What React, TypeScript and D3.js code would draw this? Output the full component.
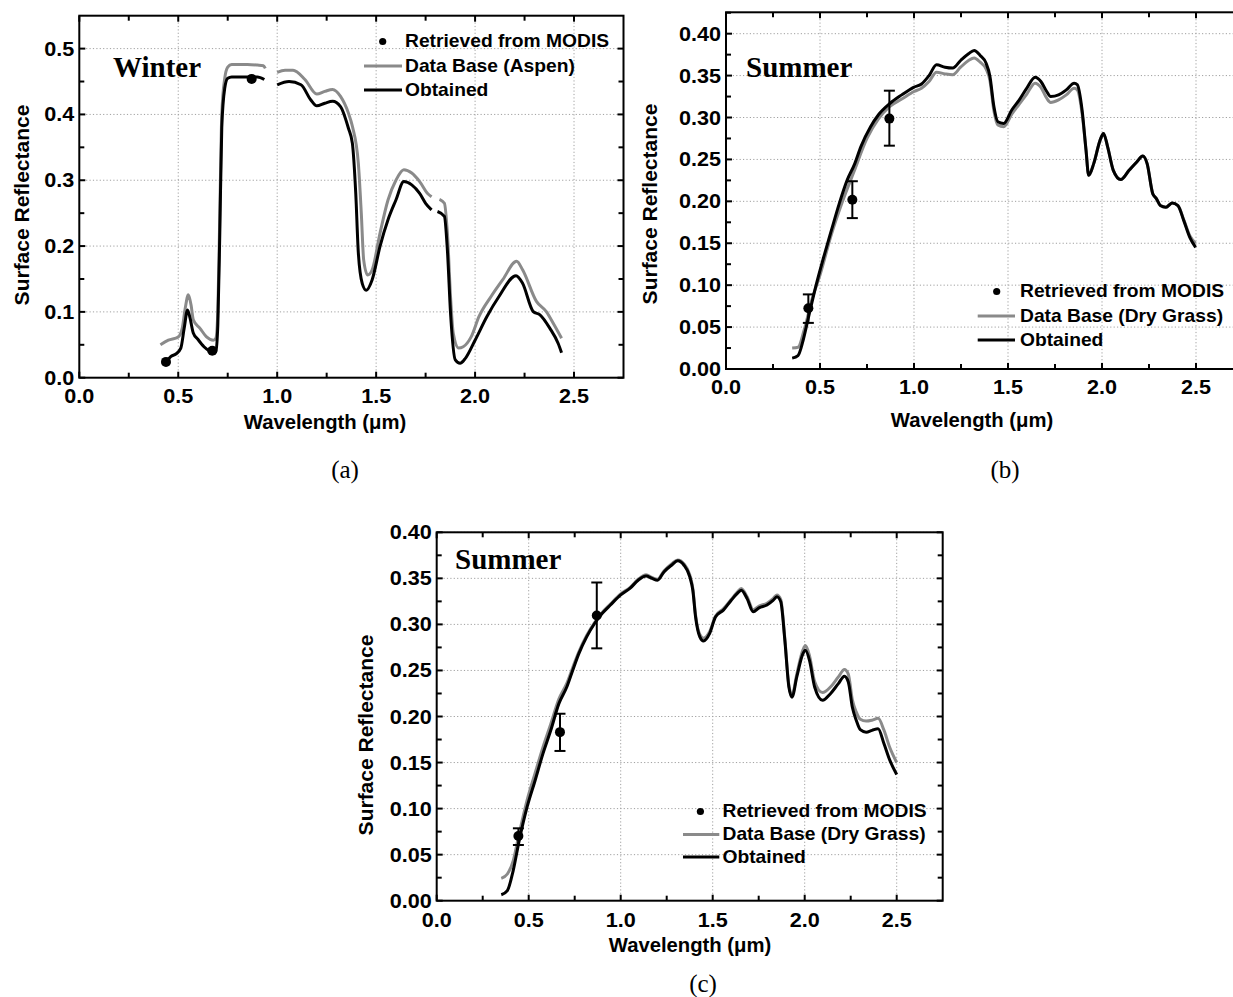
import React, { useEffect, useRef } from 'react';
import * as d3 from 'd3';

const W = 1233;
const H = 997;

// ---------- axis ticks ----------
const xTickValues = [0, 0.5, 1.0, 1.5, 2.0, 2.5];
const xTickLabels = ['0.0', '0.5', '1.0', '1.5', '2.0', '2.5'];
const xMinorValues = [0.25, 0.75, 1.25, 1.75, 2.25];
const yTickValuesA = [0, 0.1, 0.2, 0.3, 0.4, 0.5];
const yTickLabelsA = ['0.0', '0.1', '0.2', '0.3', '0.4', '0.5'];
const yMinorValuesA = [0.05, 0.15, 0.25, 0.35, 0.45];
const yTickValuesBC = [0, 0.05, 0.1, 0.15, 0.2, 0.25, 0.3, 0.35, 0.4];
const yTickLabelsBC = ['0.00', '0.05', '0.10', '0.15', '0.20', '0.25', '0.30', '0.35', '0.40'];
const yMinorValuesBC = [0.025, 0.075, 0.125, 0.175, 0.225, 0.275, 0.325, 0.375, 0.425];

// ---------- panel (a): Winter, Aspen ----------
const aGrayWl = [0.41, 0.45, 0.50, 0.52, 0.535, 0.551, 0.565, 0.576, 0.61, 0.643, 0.677, 0.69, 0.70, 0.71, 0.72, 0.735, 0.75, 0.77, 0.80, 0.85, 0.90, 0.93, 0.94,
  0.97,
  1.00, 1.04, 1.08, 1.14, 1.20, 1.24, 1.28, 1.32, 1.36, 1.38, 1.41, 1.425, 1.437, 1.457, 1.48, 1.52, 1.56, 1.60, 1.64, 1.68, 1.72, 1.76, 1.78,
  1.80,
  1.82, 1.845, 1.86, 1.877, 1.89, 1.917, 1.94, 1.98, 2.02, 2.08, 2.14, 2.21, 2.24, 2.31, 2.36, 2.40, 2.437];
const aGrayR = [0.050, 0.057, 0.062, 0.075, 0.105, 0.126, 0.110, 0.088, 0.075, 0.062, 0.057, 0.060, 0.10, 0.25, 0.40, 0.455, 0.472, 0.476, 0.476, 0.476, 0.475, 0.474, 0.470,
  null,
  0.464, 0.467, 0.467, 0.453, 0.431, 0.435, 0.438, 0.4275, 0.402, 0.382, 0.326, 0.25, 0.179, 0.156, 0.164, 0.22, 0.27, 0.30, 0.316, 0.311, 0.298, 0.28, 0.275,
  null,
  0.271, 0.265, 0.22, 0.118, 0.067, 0.045, 0.047, 0.062, 0.093, 0.123, 0.149, 0.177, 0.164, 0.116, 0.1005, 0.080, 0.060];

const aBlackWl = [0.44, 0.462, 0.488, 0.513, 0.53, 0.547, 0.56, 0.576, 0.60, 0.63, 0.66, 0.677, 0.69, 0.70, 0.71, 0.72, 0.735, 0.75, 0.77, 0.82, 0.87, 0.90, 0.935,
  0.97,
  1.00, 1.06, 1.12, 1.17, 1.20, 1.24, 1.28, 1.32, 1.36, 1.38, 1.397, 1.41, 1.43, 1.45, 1.48, 1.52, 1.56, 1.60, 1.64, 1.68, 1.72, 1.75, 1.78,
  1.795,
  1.81, 1.845, 1.86, 1.877, 1.90, 1.924, 1.95, 2.00, 2.06, 2.12, 2.207, 2.24, 2.294, 2.328, 2.378, 2.42, 2.437];
const aBlackR = [0.024, 0.032, 0.036, 0.045, 0.075, 0.103, 0.090, 0.068, 0.058, 0.047, 0.040, 0.037, 0.040, 0.08, 0.22, 0.38, 0.44, 0.455, 0.457, 0.457, 0.457, 0.457, 0.453,
  null,
  0.445, 0.45, 0.445, 0.422, 0.413, 0.417, 0.42, 0.412, 0.379, 0.356, 0.28, 0.19, 0.143, 0.133, 0.149, 0.20, 0.24, 0.27, 0.298, 0.293, 0.28, 0.265, 0.255,
  null,
  0.2525, 0.245, 0.194, 0.093, 0.027, 0.022, 0.029, 0.057, 0.093, 0.123, 0.155, 0.1435, 0.1005, 0.0955, 0.075, 0.052, 0.038];

const aModisWl = [0.438, 0.672, 0.871];
const aModisR = [0.024, 0.041, 0.454];

// ---------- panel (b): Summer, Dry Grass ----------
const bBlackWl = [0.352, 0.383, 0.41, 0.435, 0.477, 0.519, 0.56, 0.602, 0.644, 0.685, 0.717, 0.769, 0.81, 0.873, 0.935, 0.998, 1.04, 1.08, 1.12, 1.165, 1.206, 1.248, 1.29, 1.32, 1.352, 1.383, 1.404, 1.425, 1.446, 1.477, 1.52, 1.56, 1.60, 1.644, 1.675, 1.706, 1.727, 1.769, 1.81, 1.852, 1.869, 1.894, 1.915, 1.929, 1.956, 1.99, 2.008, 2.03, 2.06, 2.10, 2.144, 2.185, 2.217, 2.24, 2.27, 2.29, 2.31, 2.34, 2.373, 2.404, 2.435, 2.467, 2.498];
const bBlackR = [0.013, 0.016, 0.034, 0.058, 0.098, 0.133, 0.165, 0.197, 0.225, 0.245, 0.265, 0.289, 0.303, 0.317, 0.327, 0.336, 0.34, 0.35, 0.363, 0.36, 0.359, 0.368, 0.376, 0.38, 0.374, 0.365, 0.349, 0.313, 0.295, 0.293, 0.309, 0.321, 0.335, 0.348, 0.343, 0.331, 0.325, 0.327, 0.333, 0.341, 0.339, 0.309, 0.261, 0.231, 0.245, 0.273, 0.281, 0.265, 0.237, 0.226, 0.237, 0.247, 0.254, 0.245, 0.209, 0.203, 0.195, 0.193, 0.198, 0.195, 0.177, 0.157, 0.145];
const bGrayWl = [0.352, 0.383, 0.415, 0.456, 0.50, 0.56, 0.62, 0.68, 0.75, 0.81, 0.87, 0.935, 1.0, 1.04, 1.08, 1.12, 1.165, 1.206, 1.248, 1.29, 1.32, 1.352, 1.383, 1.404, 1.425, 1.446, 1.477, 1.52, 1.56, 1.60, 1.644, 1.675, 1.706, 1.727, 1.769, 1.81, 1.852, 1.869, 1.894, 1.915, 1.929, 1.956, 1.99, 2.008, 2.03, 2.06, 2.10, 2.144, 2.185, 2.217, 2.24, 2.27, 2.29, 2.31, 2.34, 2.373, 2.404, 2.435, 2.467, 2.498];
const bGrayR = [0.025, 0.026, 0.046, 0.082, 0.112, 0.160, 0.200, 0.235, 0.275, 0.298, 0.313, 0.322, 0.331, 0.335, 0.343, 0.354, 0.352, 0.351, 0.360, 0.368, 0.371, 0.366, 0.358, 0.344, 0.308, 0.291, 0.289, 0.304, 0.316, 0.328, 0.341, 0.336, 0.323, 0.318, 0.321, 0.327, 0.335, 0.333, 0.305, 0.261, 0.231, 0.245, 0.273, 0.281, 0.265, 0.237, 0.226, 0.237, 0.247, 0.254, 0.245, 0.209, 0.203, 0.195, 0.193, 0.198, 0.195, 0.178, 0.159, 0.150];

const bModisWl = [0.438, 0.672, 0.869];
const bModisR = [0.0725, 0.202, 0.2987];
const bModisLo = [0.055, 0.18, 0.2664];
const bModisHi = [0.089, 0.224, 0.332];

// ---------- panel (c): Summer, Dry Grass ----------
const cBlackWl = [0.351, 0.384, 0.416, 0.448, 0.491, 0.534, 0.578, 0.62, 0.664, 0.707, 0.739, 0.772, 0.815, 0.858, 0.90, 0.944, 1.0, 1.05, 1.095, 1.138, 1.17, 1.20, 1.235, 1.278, 1.31, 1.343, 1.375, 1.392, 1.407, 1.43, 1.45, 1.483, 1.515, 1.558, 1.60, 1.634, 1.655, 1.687, 1.72, 1.752, 1.795, 1.828, 1.849, 1.87, 1.892, 1.914, 1.931, 1.957, 1.99, 2.004, 2.026, 2.054, 2.097, 2.14, 2.183, 2.216, 2.237, 2.259, 2.28, 2.302, 2.334, 2.366, 2.399, 2.431, 2.463, 2.50];
const cBlackR = [0.0065, 0.011, 0.033, 0.065, 0.1015, 0.13, 0.16, 0.185, 0.214, 0.232, 0.25, 0.268, 0.2865, 0.301, 0.312, 0.321, 0.332, 0.339, 0.348, 0.3525, 0.35, 0.348, 0.357, 0.3645, 0.369, 0.3645, 0.352, 0.337, 0.308, 0.2865, 0.282, 0.29, 0.308, 0.3155, 0.326, 0.3336, 0.337, 0.328, 0.3137, 0.318, 0.321, 0.326, 0.33, 0.3245, 0.283, 0.232, 0.221, 0.243, 0.268, 0.272, 0.261, 0.232, 0.2176, 0.2248, 0.2357, 0.2437, 0.2375, 0.21, 0.196, 0.1857, 0.183, 0.185, 0.1868, 0.1704, 0.1523, 0.137];
const cGrayWl = [0.351, 0.384, 0.416, 0.448, 0.491, 0.534, 0.578, 0.62, 0.664, 0.707, 0.739, 0.772, 0.815, 0.858, 0.90, 0.944, 1.0, 1.05, 1.095, 1.138, 1.17, 1.20, 1.235, 1.278, 1.31, 1.343, 1.375, 1.392, 1.407, 1.43, 1.45, 1.483, 1.515, 1.558, 1.60, 1.634, 1.655, 1.687, 1.72, 1.752, 1.795, 1.828, 1.849, 1.87, 1.892, 1.914, 1.931, 1.957, 1.99, 2.004, 2.026, 2.054, 2.097, 2.14, 2.183, 2.216, 2.237, 2.259, 2.28, 2.302, 2.334, 2.366, 2.399, 2.431, 2.463, 2.50];
const cGrayR = [0.0243, 0.029, 0.0435, 0.0725, 0.109, 0.138, 0.167, 0.192, 0.219, 0.236, 0.253, 0.27, 0.288, 0.302, 0.313, 0.322, 0.333, 0.34, 0.349, 0.354, 0.351, 0.349, 0.358, 0.366, 0.370, 0.366, 0.354, 0.339, 0.31, 0.289, 0.285, 0.292, 0.309, 0.317, 0.327, 0.335, 0.339, 0.33, 0.316, 0.32, 0.323, 0.328, 0.332, 0.327, 0.285, 0.234, 0.223, 0.246, 0.272, 0.277, 0.266, 0.238, 0.226, 0.232, 0.243, 0.251, 0.246, 0.218, 0.205, 0.197, 0.195, 0.196, 0.198, 0.185, 0.166, 0.150];

const cModisWl = [0.444, 0.670, 0.870];
const cModisR = [0.0703, 0.183, 0.3097];
const cModisLo = [0.0605, 0.1626, 0.274];
const cModisHi = [0.0786, 0.203, 0.3455];

const legendLabelsA = ['Retrieved from MODIS', 'Data Base (Aspen)', 'Obtained'];
const legendLabelsBC = ['Retrieved from MODIS', 'Data Base (Dry Grass)', 'Obtained'];

const GRAY = '#8a8a8a';
const SANS = '"Liberation Sans", Arial, sans-serif';
const SERIF = '"Liberation Serif", "Times New Roman", serif';

type Panel = {
  frame: { l: number; t: number; r: number; b: number };
  yMax: number;
  yTicks: number[];
  yLabels: string[];
  yMinor: number[];
  gray: { wl: number[]; r: (number | null)[] };
  black: { wl: number[]; r: (number | null)[] };
  modis: { wl: number[]; r: number[]; lo?: number[]; hi?: number[] };
  season: string;
  seasonPos: [number, number];
  legend: { labels: string[]; bullet: [number, number]; textX: number; rows: number[]; lineX: [number, number] };
  yTitle: [number, number];
  xTitle: [number, number];
  xLabelDy: number;
  caption: string;
  captionPos: [number, number];
};

const panels: Panel[] = [
  {
    frame: { l: 79.3, t: 15.7, r: 623.5, b: 377.7 },
    yMax: 0.55,
    yTicks: yTickValuesA, yLabels: yTickLabelsA, yMinor: yMinorValuesA,
    gray: { wl: aGrayWl, r: aGrayR },
    black: { wl: aBlackWl, r: aBlackR },
    modis: { wl: aModisWl, r: aModisR },
    season: 'Winter', seasonPos: [113, 77],
    legend: { labels: legendLabelsA, bullet: [382.7, 41.5], textX: 405, rows: [40.5, 65, 89.5], lineX: [364, 402] },
    yTitle: [21, 205], xTitle: [325, 422], xLabelDy: 18, caption: '(a)', captionPos: [345, 470],
  },
  {
    frame: { l: 726, t: 12.3, r: 1243, b: 369 },
    yMax: 0.4255,
    yTicks: yTickValuesBC, yLabels: yTickLabelsBC, yMinor: yMinorValuesBC,
    gray: { wl: bGrayWl, r: bGrayR },
    black: { wl: bBlackWl, r: bBlackR },
    modis: { wl: bModisWl, r: bModisR, lo: bModisLo, hi: bModisHi },
    season: 'Summer', seasonPos: [746, 77.3],
    legend: { labels: legendLabelsBC, bullet: [996.7, 291.5], textX: 1020, rows: [290, 315, 339.5], lineX: [977.7, 1015] },
    yTitle: [649, 204], xTitle: [972, 420], xLabelDy: 18.4, caption: '(b)', captionPos: [1005, 470],
  },
  {
    frame: { l: 436.7, t: 532.3, r: 942.7, b: 900.7 },
    yMax: 0.40,
    yTicks: yTickValuesBC, yLabels: yTickLabelsBC, yMinor: yMinorValuesBC.filter(v => v < 0.4),
    gray: { wl: cGrayWl, r: cGrayR },
    black: { wl: cBlackWl, r: cBlackR },
    modis: { wl: cModisWl, r: cModisR, lo: cModisLo, hi: cModisHi },
    season: 'Summer', seasonPos: [455, 569.3],
    legend: { labels: legendLabelsBC, bullet: [700.4, 811.5], textX: 722.5, rows: [810.5, 833.5, 856.5], lineX: [683, 719.3] },
    yTitle: [365, 735], xTitle: [690, 945], xLabelDy: 19.3, caption: '(c)', captionPos: [703, 984],
  },
];

function drawPanel(svg: d3.Selection<SVGSVGElement, unknown, null, undefined>, p: Panel) {
  const { l, t, r, b } = p.frame;
  const x = d3.scaleLinear().domain([0, 2.75]).range([l, r]);
  const y = d3.scaleLinear().domain([0, p.yMax]).range([b, t]);
  const g = svg.append('g');

  // grid
  const grid = g.append('g').attr('stroke', '#a0a0a0').attr('stroke-width', 1).attr('stroke-dasharray', '1.2,2.2');
  xTickValues.filter(v => v > 0).forEach(v => {
    grid.append('line').attr('x1', x(v)).attr('x2', x(v)).attr('y1', t).attr('y2', b);
  });
  p.yTicks.filter(v => v > 0).forEach(v => {
    grid.append('line').attr('x1', l).attr('x2', r).attr('y1', y(v)).attr('y2', y(v));
  });

  // curves
  const toPts = (s: { wl: number[]; r: (number | null)[] }) => s.wl.map((w, i) => ({ w, v: s.r[i] }));
  const line = d3.line<{ w: number; v: number | null }>()
    .defined(d => d.v != null)
    .x(d => x(d.w))
    .y(d => y(d.v as number))
    .curve(d3.curveMonotoneX);
  g.append('path').attr('d', line(toPts(p.gray)) || '').attr('fill', 'none').attr('stroke', GRAY).attr('stroke-width', 3).attr('stroke-linejoin', 'round');
  g.append('path').attr('d', line(toPts(p.black)) || '').attr('fill', 'none').attr('stroke', '#000').attr('stroke-width', 3).attr('stroke-linejoin', 'round');

  // error bars + dots
  p.modis.wl.forEach((w, i) => {
    if (p.modis.lo && p.modis.hi) {
      const cx = x(w);
      const y1 = y(p.modis.lo[i]);
      const y2 = y(p.modis.hi[i]);
      g.append('line').attr('x1', cx).attr('x2', cx).attr('y1', y1).attr('y2', y2).attr('stroke', '#000').attr('stroke-width', 2);
      [y1, y2].forEach(yy => g.append('line').attr('x1', cx - 5.5).attr('x2', cx + 5.5).attr('y1', yy).attr('y2', yy).attr('stroke', '#000').attr('stroke-width', 2));
    }
    g.append('circle').attr('cx', x(w)).attr('cy', y(p.modis.r[i])).attr('r', 5).attr('fill', '#000');
  });

  // frame
  g.append('rect').attr('x', l).attr('y', t).attr('width', r - l).attr('height', b - t)
    .attr('fill', 'none').attr('stroke', '#000').attr('stroke-width', 2);

  // ticks (inward on all sides)
  const tk = g.append('g').attr('stroke', '#000').attr('stroke-width', 2);
  const xAll = [...xTickValues.map(v => ({ v, len: 6 })), ...xMinorValues.map(v => ({ v, len: 5 }))];
  xAll.forEach(({ v, len }) => {
    tk.append('line').attr('x1', x(v)).attr('x2', x(v)).attr('y1', b).attr('y2', b - len);
    tk.append('line').attr('x1', x(v)).attr('x2', x(v)).attr('y1', t).attr('y2', t + len);
  });
  const yAll = [...p.yTicks.map(v => ({ v, len: 6 })), ...p.yMinor.map(v => ({ v, len: 5 }))];
  yAll.forEach(({ v, len }) => {
    tk.append('line').attr('x1', l).attr('x2', l + len).attr('y1', y(v)).attr('y2', y(v));
    tk.append('line').attr('x1', r).attr('x2', r - len).attr('y1', y(v)).attr('y2', y(v));
  });

  // tick labels
  xTickValues.forEach((v, i) => {
    g.append('text').attr('transform', `translate(${x(v)},${b + p.xLabelDy + 7}) scale(1.08,1)`)
      .attr('text-anchor', 'middle').attr('font-family', SANS).attr('font-weight', 'bold').attr('font-size', 20)
      .text(xTickLabels[i]);
  });
  p.yTicks.forEach((v, i) => {
    g.append('text').attr('transform', `translate(${l - 5},${y(v) + 7}) scale(1.08,1)`)
      .attr('text-anchor', 'end').attr('font-family', SANS).attr('font-weight', 'bold').attr('font-size', 20)
      .text(p.yLabels[i]);
  });

  // axis titles
  g.append('text').attr('transform', `translate(${p.xTitle[0]},${p.xTitle[1] + 7}) scale(1.04,1)`)
    .attr('text-anchor', 'middle').attr('font-family', SANS).attr('font-weight', 'bold').attr('font-size', 19.5)
    .text('Wavelength (\u03bcm)');
  g.append('text').attr('transform', `translate(${p.yTitle[0] + 7.5},${p.yTitle[1]}) rotate(-90)`)
    .attr('text-anchor', 'middle').attr('font-family', SANS).attr('font-weight', 'bold').attr('font-size', 21)
    .text('Surface Reflectance');

  // season label
  g.append('text').attr('x', p.seasonPos[0]).attr('y', p.seasonPos[1])
    .attr('font-family', SERIF).attr('font-weight', 'bold').attr('font-size', 29).text(p.season);

  // legend
  const lg = p.legend;
  g.append('circle').attr('cx', lg.bullet[0]).attr('cy', lg.bullet[1]).attr('r', 3.6).attr('fill', '#000');
  g.append('line').attr('x1', lg.lineX[0]).attr('x2', lg.lineX[1]).attr('y1', lg.rows[1] + 1).attr('y2', lg.rows[1] + 1)
    .attr('stroke', GRAY).attr('stroke-width', 3.2);
  g.append('line').attr('x1', lg.lineX[0]).attr('x2', lg.lineX[1]).attr('y1', lg.rows[2] + 0.5).attr('y2', lg.rows[2] + 0.5)
    .attr('stroke', '#000').attr('stroke-width', 3.2);
  lg.labels.forEach((s, i) => {
    g.append('text').attr('transform', `translate(${lg.textX},${lg.rows[i] + 6.5}) scale(1.04,1)`)
      .attr('font-family', SANS).attr('font-weight', 'bold').attr('font-size', 18.5).text(s);
  });

  // caption
  g.append('text').attr('x', p.captionPos[0]).attr('y', p.captionPos[1] + 8)
    .attr('text-anchor', 'middle').attr('font-family', SERIF).attr('font-size', 25).text(p.caption);
}

export default function App() {
  const ref = useRef<SVGSVGElement | null>(null);
  useEffect(() => {
    if (!ref.current) return;
    const svg = d3.select(ref.current);
    svg.selectAll('*').remove();
    svg.append('rect').attr('width', W).attr('height', H).attr('fill', '#fff');
    panels.forEach(p => drawPanel(svg, p));
  }, []);
  return (
    <svg ref={ref} width={W} height={H} style={{ position: 'absolute', left: 0, top: 0, display: 'block' }} />
  );
}
